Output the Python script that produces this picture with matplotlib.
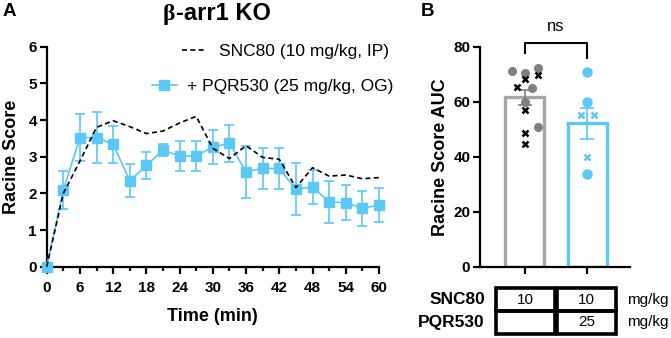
import matplotlib
matplotlib.use('Agg')
import matplotlib.pyplot as plt
import matplotlib.transforms as mtransforms
from matplotlib.ticker import MultipleLocator
from matplotlib.patches import Rectangle
from matplotlib.lines import Line2D

plt.rcParams['font.family'] = ['Liberation Sans', 'DejaVu Sans']

BLUE = '#5BC8F5'
GRAY = '#A6A6A6'
DOTGRAY = '#808080'

# Panel A: time course
time_min = [0, 3, 6, 9, 12, 15, 18, 21, 24, 27, 30, 33, 36, 39, 42, 45, 48, 51, 54, 57, 60]
snc80_mean = [0, 2.0, 2.88, 3.8, 3.98, 3.82, 3.63, 3.7, 3.92, 4.1, 3.23, 2.95, 3.3, 2.98,
              2.93, 2.16, 2.7, 2.47, 2.5, 2.4, 2.43]
pqr_mean = [0, 2.09, 3.52, 3.52, 3.34, 2.34, 2.76, 3.18, 3.02, 3.02, 3.27, 3.36, 2.59, 2.68,
            2.68, 2.11, 2.18, 1.76, 1.75, 1.59, 1.68]
pqr_sem = [0, 0.51, 0.65, 0.7, 0.5, 0.45, 0.36, 0.16, 0.41, 0.4, 0.47, 0.5, 0.71, 0.57,
           0.57, 0.71, 0.46, 0.57, 0.48, 0.48, 0.47]
snc80_label = 'SNC80 (10 mg/kg, IP)'
pqr_label = '+ PQR530 (25 mg/kg, OG)'

# Panel B: AUC
auc_mean = [61.6, 52.1]
auc_sem = [2.7, 5.5]
snc80_dots = [71.3, 70.6, 72.4, 64.9, 60.0, 50.7]
snc80_dots_x = [-0.2, 0, 0.21, 0.12, 0, 0.21]
snc80_cross = [65.2, 68.1, 69.7, 57.0, 48.5, 44.6]
snc80_cross_x = [-0.12, 0, 0.21, 0, 0, 0]
pqr_dots = [70.7, 59.8, 33.7]
pqr_dots_x = [0, 0, 0]
pqr_cross = [55.2, 55.2, 39.8]
pqr_cross_x = [-0.1, 0.1, 0]

row_labels = ['SNC80', 'PQR530']
doses = [['10', '10'], ['', '25']]
unit = 'mg/kg'

fig = plt.figure(figsize=(6.71, 3.38), dpi=100)
axA = fig.add_axes([0.0696, 0.2109, 0.4952, 0.651])
axB = fig.add_axes([0.7154, 0.2109, 0.2235, 0.651])

# ---- Panel A
eb = axA.errorbar(time_min, pqr_mean, yerr=pqr_sem, color=BLUE, marker='s', ms=6.5,
                  lw=1.2, elinewidth=1.2, capsize=3.5, capthick=1.2, zorder=3)
for art in [eb.lines[0]] + list(eb.lines[1]) + list(eb.lines[2]):
    art.set_clip_on(False)
axA.plot(time_min, snc80_mean, color='black', ls='--', dashes=(3, 2), lw=1.2,
         zorder=4, clip_on=False)

axA.set_xlim(0, 60)
axA.set_ylim(0, 6)
axA.xaxis.set_major_locator(MultipleLocator(6))
axA.xaxis.set_minor_locator(MultipleLocator(3))
axA.yaxis.set_major_locator(MultipleLocator(1))
axA.set_xlabel('Time (min)', fontweight='bold', fontsize=13, labelpad=10)
axA.set_ylabel('Racine Score', fontweight='bold', fontsize=13, labelpad=6)

# two single-entry legends so the rows line up like the original
h1 = Line2D([], [], color='black', ls='--', dashes=(3, 2), lw=1.2)
h2 = Line2D([], [], color=BLUE, marker='s', ms=6.5, lw=1.2)
leg1 = axA.legend([h1], [snc80_label], loc='center left', bbox_to_anchor=(0.38, 0.977),
                  frameon=False, fontsize=12.5, borderpad=0, handlelength=1.45,
                  handletextpad=0.7)
axA.add_artist(leg1)
axA.legend([h2], [pqr_label], loc='center left', bbox_to_anchor=(0.29, 0.821),
           frameon=False, fontsize=12.5, borderpad=0, handlelength=1.45,
           handletextpad=0.6)

# ---- Panel B
axB.bar([0, 1], auc_mean, width=0.62, color='white', edgecolor=[GRAY, BLUE],
        linewidth=2.4, zorder=1)
axB.errorbar([0], auc_mean[0], yerr=auc_sem[0], color=DOTGRAY, capsize=5, lw=1.2,
             capthick=1.2, zorder=2)
axB.errorbar([1], auc_mean[1], yerr=auc_sem[1], color=BLUE, capsize=5, lw=1.2,
             capthick=1.2, zorder=2)
axB.plot(snc80_dots_x, snc80_dots, 'o', color=DOTGRAY, ms=5.5, zorder=3, clip_on=False)
axB.plot(snc80_cross_x, snc80_cross, 'x', color='black', ms=5, mew=1.8, zorder=3)
axB.plot([1 + v for v in pqr_dots_x], pqr_dots, 'o', color=BLUE, ms=6.5, zorder=3)
axB.plot([1 + v for v in pqr_cross_x], pqr_cross, 'x', color=BLUE, ms=5, mew=1.8, zorder=3)

axB.plot([0, 0, 1, 1], [77.6, 81.5, 81.5, 75.8], color='black', lw=1.5, clip_on=False)
axB.text(0.5, 87.5, 'ns', ha='center', va='center', fontsize=12)

axB.set_xlim(-0.71, 1.68)
axB.set_ylim(0, 80)
axB.set_yticks([0, 20, 40, 60, 80])
axB.set_xticks([0, 1])
axB.set_xticklabels([])
axB.set_ylabel('Racine Score AUC', fontweight='bold', fontsize=13, labelpad=3)

for ax in (axA, axB):
    for s in ('top', 'right'):
        ax.spines[s].set_visible(False)
    for s in ('left', 'bottom'):
        ax.spines[s].set_linewidth(1.6)
    ax.tick_params(which='major', length=5, width=1.6, labelsize=11, pad=2)
    ax.tick_params(which='minor', length=3, width=1.6)
    for lab in ax.get_xticklabels() + ax.get_yticklabels():
        lab.set_fontweight('bold')
axA.tick_params(axis='x', pad=5)

# treatment table under panel B
trans = mtransforms.blended_transform_factory(axB.transData, fig.transFigure)
col_x0 = [-0.46, 0.52]
col_w = 0.94
row_top = [0.147, 0.080]
row_h = 0.067
for r, lab in enumerate(row_labels):
    yc = row_top[r] - row_h / 2
    fig.text(0.7228, yc, lab, ha='right', va='center', fontweight='bold', fontsize=12.5)
    fig.text(0.934, yc, unit, ha='left', va='center', fontsize=11)
    for c in range(2):
        rect = Rectangle((col_x0[c], row_top[r] - row_h), col_w, row_h, transform=trans,
                         fill=False, edgecolor='black', lw=2.6, clip_on=False)
        fig.add_artist(rect)
        if doses[r][c]:
            fig.text(col_x0[c] + col_w / 2, yc, doses[r][c], transform=trans,
                     ha='center', va='center', fontsize=11)

# panel letters and title
fig.text(3 / 671, 1 - 12 / 338, 'A', fontweight='bold', fontsize=13.5, va='center')
fig.text(421 / 671, 1 - 12 / 338, 'B', fontweight='bold', fontsize=13.5, va='center')
t1 = fig.text(163 / 671, 1 - 20 / 338, 'β', family='Liberation Serif', fontweight='bold',
              fontsize=17, ha='left', va='baseline')
axA.annotate('-arr1 KO', xy=(1, 0), xycoords=t1, ha='left', va='bottom',
             fontweight='bold', fontsize=17)

fig.savefig('out.png', dpi=100)
